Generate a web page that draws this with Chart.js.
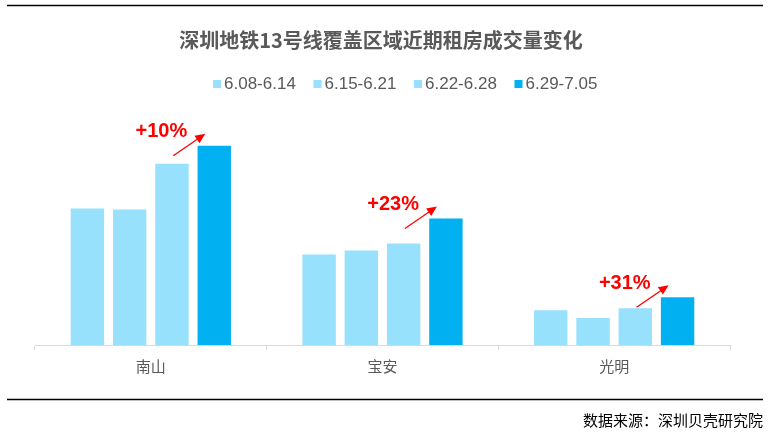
<!DOCTYPE html>
<html>
<head>
<meta charset="utf-8">
<script src="https://cdn.jsdelivr.net/npm/chart.js@4.4.1/dist/chart.umd.min.js"></script>
<style>
  html, body { margin: 0; padding: 0; background: #fff; }
  #wrap { width: 770px; height: 441px; }
</style>
</head>
<body>
<div id="wrap"><canvas id="grafico" width="770" height="441"></canvas></div>
<script>
// Datos (altura relativa de las barras)
const categorias = ['南山', '宝安', '光明'];
const semanas = ['6.08-6.14', '6.15-6.21', '6.22-6.28', '6.29-7.05'];
const semana1 = [137, 91, 35];
const semana2 = [136, 95, 27];
const semana3 = [182, 102, 37];
const semana4 = [200, 127, 48];
const variaciones = ['+10%', '+23%', '+31%'];

const titulo = '深圳地铁13号线覆盖区域近期租房成交量变化';
const fuente = '数据来源：深圳贝壳研究院';

const colorClaro = '#97E1FC';
const colorOscuro = '#00B0F0';
const gris = '#595959';

// Plugin para dibujar título, leyenda, líneas y flechas
const decoracion = {
  id: 'decoracion',
  afterDraw(chart) {
    const ctx = chart.ctx;
    ctx.save();

    // líneas superior e inferior
    ctx.strokeStyle = '#000';
    ctx.lineWidth = 1.5;
    ctx.beginPath();
    ctx.moveTo(7, 5.5); ctx.lineTo(763, 5.5);
    ctx.moveTo(7, 399.5); ctx.lineTo(763, 399.5);
    ctx.stroke();

    // título
    ctx.fillStyle = gris;
    ctx.font = 'bold 20px "Noto Sans CJK SC", "Liberation Sans", sans-serif';
    ctx.textAlign = 'center';
    ctx.textBaseline = 'middle';
    ctx.fillText(titulo, 381, 40);

    // leyenda
    ctx.font = '17px "Liberation Sans", Arial, sans-serif';
    ctx.textAlign = 'left';
    chart.data.datasets.forEach((ds, i) => {
      const x = 213 + i * 100.5;
      ctx.fillStyle = ds.backgroundColor;
      ctx.fillRect(x, 80, 8, 8);
      ctx.fillStyle = gris;
      ctx.fillText(ds.label, x + 11, 84.5);
    });

    // fuente
    ctx.fillStyle = '#000';
    ctx.font = '15px "Noto Sans CJK SC", sans-serif';
    ctx.textAlign = 'right';
    ctx.fillText(fuente, 763, 420);

    // flechas y porcentajes
    const m4 = chart.getDatasetMeta(3).data;
    ctx.strokeStyle = '#FF0000';
    ctx.fillStyle = '#FF0000';
    m4.forEach((bar, i) => {
      const tx = bar.x - 9, ty = bar.y - 12;
      const sx = tx - 32, sy = ty + 22;
      const ang = Math.atan2(ty - sy, tx - sx);
      ctx.lineWidth = 1.3;
      ctx.beginPath();
      ctx.moveTo(sx, sy);
      ctx.lineTo(tx - 7 * Math.cos(ang), ty - 7 * Math.sin(ang));
      ctx.stroke();
      ctx.beginPath();
      ctx.moveTo(tx, ty);
      ctx.lineTo(tx - 10 * Math.cos(ang) + 4.5 * Math.sin(ang), ty - 10 * Math.sin(ang) - 4.5 * Math.cos(ang));
      ctx.lineTo(tx - 10 * Math.cos(ang) - 4.5 * Math.sin(ang), ty - 10 * Math.sin(ang) + 4.5 * Math.cos(ang));
      ctx.closePath();
      ctx.fill();

      ctx.font = 'bold 20px "Liberation Sans", Arial, sans-serif';
      ctx.textAlign = 'right';
      ctx.textBaseline = 'middle';
      ctx.fillText(variaciones[i], tx - 18, ty - 2);
    });

    ctx.restore();
  }
};

const ctx = document.getElementById('grafico').getContext('2d');
new Chart(ctx, {
  type: 'bar',
  data: {
    labels: categorias,
    datasets: [
      { label: semanas[0], data: semana1, backgroundColor: colorClaro },
      { label: semanas[1], data: semana2, backgroundColor: colorClaro },
      { label: semanas[2], data: semana3, backgroundColor: colorClaro },
      { label: semanas[3], data: semana4, backgroundColor: colorOscuro }
    ]
  },
  options: {
    responsive: false,
    animation: false,
    devicePixelRatio: 1,
    categoryPercentage: 0.73,
    barPercentage: 0.79,
    layout: { padding: { left: 35, right: 40, top: 106, bottom: 59 } },
    scales: {
      x: {
        grid: { drawOnChartArea: false, tickLength: 5, color: '#D9D9D9' },
        border: { color: '#D9D9D9' },
        ticks: {
          color: gris,
          padding: 7,
          font: { size: 15, family: '"Noto Sans CJK SC", sans-serif' }
        }
      },
      y: { display: false, min: 0, max: 240 }
    },
    plugins: {
      legend: { display: false },
      title: { display: false },
      tooltip: { enabled: false }
    }
  },
  plugins: [decoracion]
});
</script>
</body>
</html>
